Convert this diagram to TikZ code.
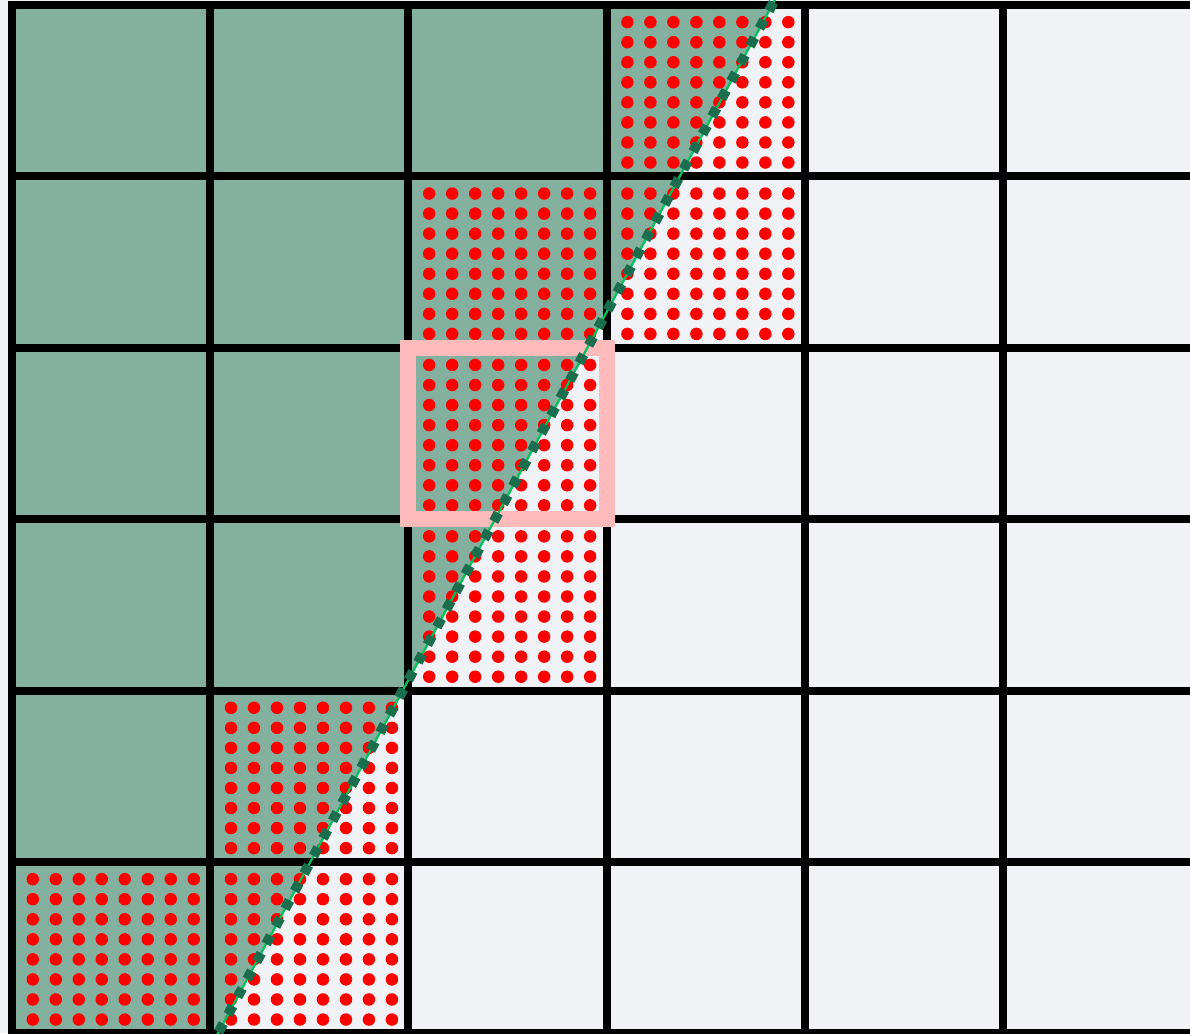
\documentclass[tikz,border=0pt]{standalone}
\usetikzlibrary{calc}
\definecolor{sage}{HTML}{84B09F}
\definecolor{paper}{HTML}{F0F2F6}
\definecolor{blush}{HTML}{FFBBBB}
\definecolor{pine}{HTML}{1B6E4D}
\definecolor{brgrn}{HTML}{00C35A}
\tikzset{
  gridln/.style ={draw=black,line width=0.16cm,line cap=rect},
  hilite/.style ={draw=blush,line width=0.32cm},
  dot/.style    ={fill=red},
  bnd/.style    ={draw=pine,line width=0.2cm,dash pattern=on 0.19cm off 0.21cm},
  bndcore/.style={draw=brgrn,line width=0.045cm},
}
\begin{document}
\begin{tikzpicture}[x=3.964cm,y=-3.428cm]
  \useasboundingbox (-0.0605,-0.0292) rectangle (5.9435,5.9977);
  \clip (-0.0605,-0.0292) rectangle (5.9435,5.9977);
  \fill[paper] (-0.0605,-0.0292) rectangle (5.9435,5.9977);
  % ends of the boundary line
  \coordinate (lo) at (1.039,6);
  \coordinate (hi) at (3.835,0);
  \fill[sage] (0,0) -- (hi) -- (lo) -- (0,6) -- cycle;
  % sampled cells
  \foreach \c/\r in {3/0,2/1,3/1,2/2,2/3,1/4,0/5,1/5}
    \foreach \i in {0,...,7}
      \foreach \j in {0,...,7}
        \fill[dot] ({\c+0.105+\i*0.116},{\r+0.1+\j*0.117}) circle[radius=0.125cm];
  \foreach \k in {0,...,6} \draw[gridln] (0,\k) -- (6.2,\k);
  \foreach \k in {0,...,5} \draw[gridln] (\k,0) -- (\k,6.2);
  \draw[hilite] (2,2) rectangle (3,3);
  \draw[bndcore] ($(lo)!-0.05!(hi)$) -- ($(hi)!-0.05!(lo)$);
  \draw[bnd] ($(lo)!-0.05!(hi)$) -- ($(hi)!-0.05!(lo)$);
\end{tikzpicture}
\end{document}
